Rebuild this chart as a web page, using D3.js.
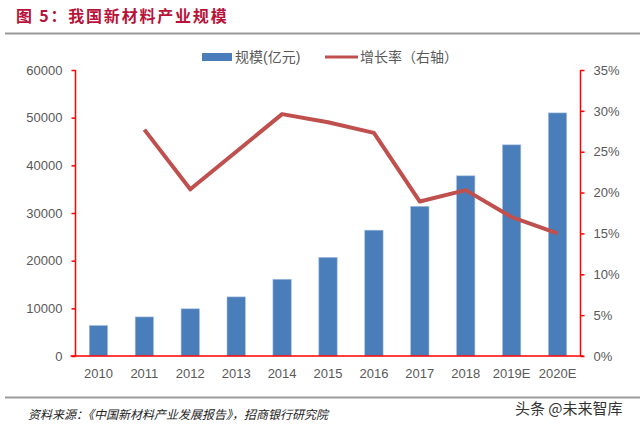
<!DOCTYPE html>
<html><head><meta charset="utf-8">
<script src="https://cdn.jsdelivr.net/npm/d3@7"></script>
<style>body{margin:0;background:#fff}svg{display:block}</style>
</head><body>
<svg id="c" width="640" height="428"></svg>
<script>
const categories = ["2010","2011","2012","2013","2014","2015","2016","2017","2018","2019E","2020E"];
const scaleValues = [6400,8200,9900,12400,16100,20700,26400,31400,37800,44300,51000];
const growthValues = [null,0.277,0.204,0.250,0.296,0.286,0.273,0.189,0.203,0.170,0.150];
const leftTicks = [0,10000,20000,30000,40000,50000,60000];
const rightTicks = [0,0.05,0.10,0.15,0.20,0.25,0.30,0.35];
const titleText = "图 5：我国新材料产业规模";
const sourceText = "资料来源：《中国新材料产业发展报告》，招商银行研究院";
const legendBar = "规模(亿元)";
const legendLine = "增长率（右轴）";
const watermark = "头条 @未来智库";

const svg = d3.select("#c");
const L = 75.5, R = 580.5, T = 70, B = 356;
const font = "'Liberation Sans', 'Noto Sans CJK SC', sans-serif";
const gray = "#595959", red = "#ff0000";

const x = d3.scaleBand().domain(categories).range([L, R]).paddingInner(0.6).paddingOuter(0.3);
const yL = d3.scaleLinear().domain([0,60000]).range([B, T]);
const yR = d3.scaleLinear().domain([0,0.35]).range([B, T]);

// title
svg.append("text").attr("x",16).attr("y",22).text(titleText)
  .attr("font-family","'Noto Sans CJK SC', sans-serif").attr("font-weight","bold")
  .attr("font-size",16).attr("fill","#b8123a").attr("letter-spacing",1.8);
svg.append("line").attr("x1",5).attr("x2",640).attr("y1",33.5).attr("y2",33.5)
  .attr("stroke","#9a9a9a").attr("stroke-width",2);
svg.append("line").attr("x1",5).attr("x2",640).attr("y1",397.5).attr("y2",397.5)
  .attr("stroke","#9a9a9a").attr("stroke-width",2);

// bars
svg.append("g").selectAll("rect").data(categories).join("rect")
  .attr("x", d => x(d)).attr("width", x.bandwidth())
  .attr("y", (d,i) => yL(scaleValues[i])).attr("height", (d,i) => B - yL(scaleValues[i]))
  .attr("fill","#4a7ebb").attr("stroke","#a9c1e0").attr("stroke-width",0.6);

// line
const pts = categories.map((d,i)=>({c:d,v:growthValues[i]})).filter(p=>p.v!=null);
svg.append("path").datum(pts)
  .attr("d", d3.line().x(p=>x(p.c)+x.bandwidth()/2).y(p=>yR(p.v)))
  .attr("fill","none").attr("stroke","#c0504d").attr("stroke-width",4).attr("stroke-linejoin","round");

// axes
const gl = svg.append("g").attr("transform",`translate(${L},0)`)
  .call(d3.axisLeft(yL).tickValues(leftTicks).tickSize(4).tickPadding(9).tickFormat(d3.format("d")));
const gr = svg.append("g").attr("transform",`translate(${R},0)`)
  .call(d3.axisRight(yR).tickValues(rightTicks).tickSize(4).tickPadding(9).tickFormat(d3.format(".0%")));
const gb = svg.append("g").attr("transform",`translate(0,${B})`)
  .call(d3.axisBottom(x).tickSize(0).tickPadding(13));
[gl,gr,gb].forEach(g=>{
  g.selectAll("path").attr("stroke",red).attr("stroke-width",1.5);
  g.selectAll("line").attr("stroke",red).attr("stroke-width",1.5);
  g.selectAll("text").attr("fill",gray).attr("font-size",13).attr("font-family",font);
});
gl.select(".domain").attr("d",`M0,${T}V${B}`);
gr.select(".domain").attr("d",`M0,${T}V${B}`);
gb.select(".domain").attr("d",`M${L-5},0H${R+3}`);

// legend
const lg = svg.append("g");
lg.append("rect").attr("x",202).attr("y",53).attr("width",30).attr("height",8).attr("fill","#4a7ebb");
lg.append("text").attr("x",235).attr("y",62).text(legendBar).attr("font-size",14).attr("fill",gray).attr("font-family",font);
lg.append("line").attr("x1",325).attr("x2",358).attr("y1",57).attr("y2",57).attr("stroke","#c0504d").attr("stroke-width",3);
lg.append("text").attr("x",360).attr("y",62).text(legendLine).attr("font-size",14).attr("fill",gray).attr("font-family",font);

// source
svg.append("text").attr("x",28).attr("y",419).text(sourceText)
  .attr("font-size",12).attr("font-style","italic").attr("fill","#222").attr("font-family","'Noto Sans CJK SC', sans-serif");
svg.append("text").attr("x",515).attr("y",414).text(watermark)
  .attr("font-size",15).attr("fill","#333").attr("font-family","'Noto Sans CJK SC', sans-serif");
</script>
</body></html>
